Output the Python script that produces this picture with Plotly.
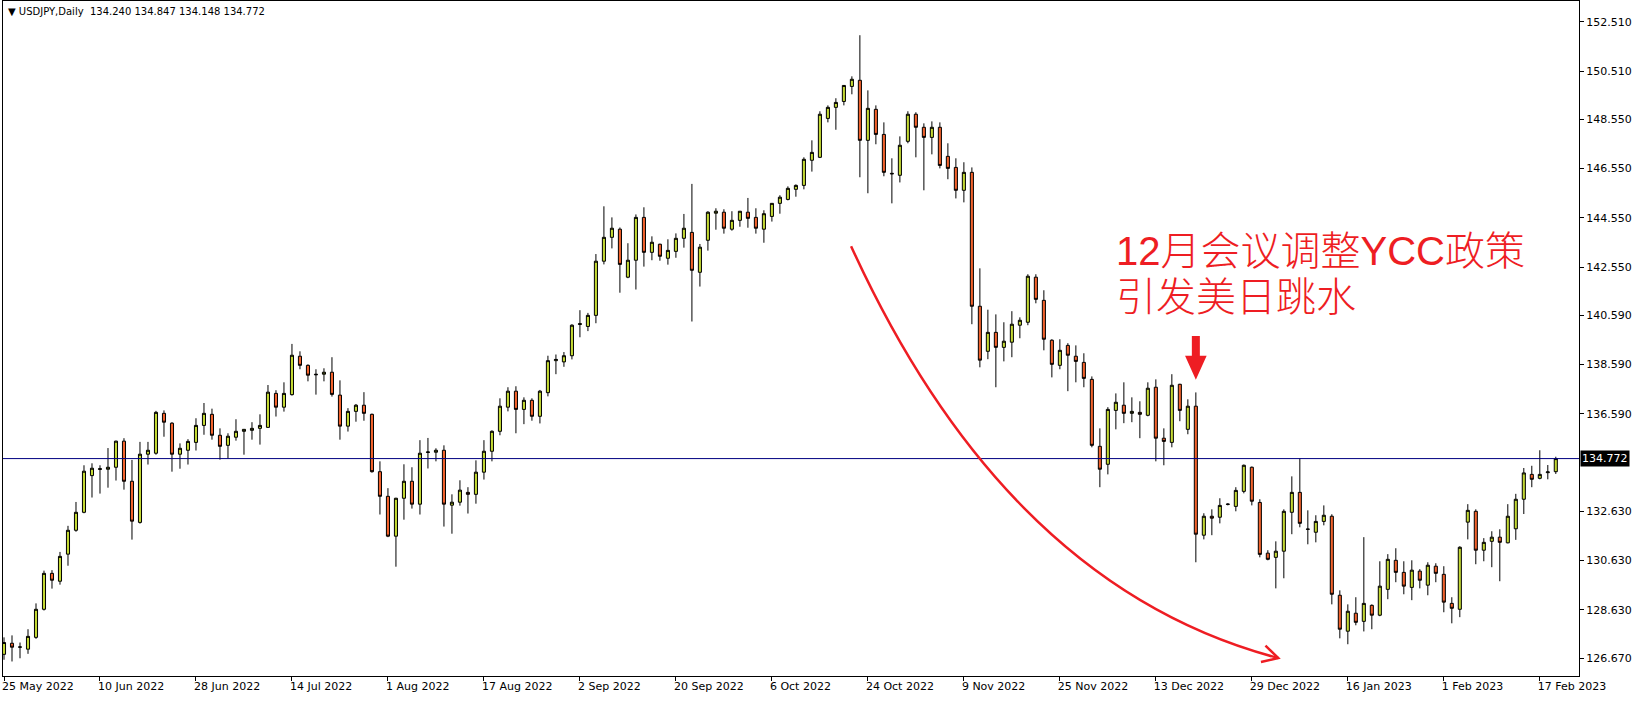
import plotly.graph_objects as go

# ---- data (USDJPY daily, 195 bars) ----
open_ = [
    126.82, 127.27, 127.11, 127.03, 127.51, 128.65, 130.11, 129.79, 130.89, 131.86,
    132.59, 134.08, 134.33, 134.34, 134.42, 135.48, 133.85, 132.18, 134.95, 134.99,
    136.61, 136.21, 134.95, 135.11, 135.43, 136.12, 136.57, 135.72, 135.31, 135.64,
    135.88, 135.92, 136.00, 136.04, 137.42, 136.86, 137.37, 138.93, 138.56, 138.20,
    138.20, 138.28, 137.35, 136.09, 136.69, 136.94, 136.57, 134.24, 133.24, 131.62,
    133.16, 133.85, 132.92, 135.02, 135.03, 135.11, 132.88, 133.00, 133.40, 133.32,
    134.22, 135.07, 135.88, 136.86, 137.51, 136.77, 137.14, 136.49, 137.45, 138.75,
    138.70, 138.95, 140.22, 140.14, 140.59, 142.79, 143.76, 144.09, 142.14, 142.83,
    144.57, 143.15, 143.48, 142.91, 143.19, 143.72, 143.96, 142.34, 143.64, 144.74,
    144.78, 144.09, 144.45, 144.78, 144.57, 144.09, 144.61, 145.14, 145.30, 145.71,
    145.87, 146.89, 147.01, 148.59, 149.04, 149.28, 149.89, 150.14, 147.70, 148.96,
    147.94, 146.36, 146.28, 147.66, 148.76, 148.23, 147.82, 148.23, 147.05, 146.60,
    145.67, 146.40, 140.96, 139.13, 139.90, 139.29, 139.50, 140.19, 140.31, 142.14,
    141.20, 139.58, 138.56, 139.37, 138.93, 138.68, 137.99, 135.27, 134.54, 136.73,
    136.94, 136.61, 136.65, 136.53, 137.67, 135.60, 135.43, 137.79, 135.96, 136.90,
    131.66, 132.43, 132.39, 132.91, 132.83, 133.44, 134.42, 132.99, 130.93, 130.76,
    131.01, 132.59, 133.40, 131.91, 131.78, 132.22, 132.43, 129.22, 127.76, 128.49,
    128.16, 128.81, 128.41, 129.46, 130.64, 130.15, 129.54, 130.20, 129.63, 130.40,
    130.07, 128.89, 128.65, 132.19, 132.63, 131.05, 131.41, 131.58, 131.35, 131.92,
    133.12, 134.13, 133.97, 134.20, 134.240,
]
high_ = [
    127.51, 127.59, 127.30, 127.84, 128.89, 130.22, 130.24, 130.98, 132.04, 133.01,
    134.50, 134.58, 134.50, 135.20, 135.50, 135.60, 134.72, 135.45, 135.45, 136.71,
    136.73, 136.25, 135.39, 135.56, 136.41, 137.03, 136.80, 136.00, 135.80, 136.37,
    135.97, 136.25, 136.57, 137.76, 137.55, 137.87, 139.43, 139.13, 138.60, 138.40,
    138.44, 138.89, 137.95, 136.82, 136.99, 137.47, 136.60, 134.66, 133.57, 133.18,
    134.54, 134.42, 135.52, 135.61, 135.19, 135.31, 133.32, 133.89, 133.61, 134.70,
    135.52, 135.92, 137.22, 137.67, 137.71, 137.26, 137.22, 137.56, 138.95, 139.00,
    139.10, 140.23, 140.80, 140.69, 143.08, 145.02, 144.57, 144.16, 143.52, 144.69,
    144.98, 143.80, 143.50, 143.68, 143.92, 144.71, 145.93, 143.49, 144.82, 144.94,
    144.90, 144.82, 144.83, 145.36, 144.94, 144.86, 145.15, 145.47, 145.83, 145.91,
    147.01, 147.70, 148.88, 149.12, 149.41, 149.94, 150.30, 151.97, 149.73, 149.12,
    148.43, 146.97, 147.86, 148.88, 148.84, 148.39, 148.47, 148.43, 147.58, 146.97,
    146.81, 146.60, 142.50, 140.82, 140.63, 140.31, 140.76, 140.51, 142.26, 142.26,
    141.61, 139.62, 139.62, 139.46, 139.37, 139.05, 138.11, 136.00, 136.86, 137.42,
    137.87, 137.26, 137.10, 137.87, 137.99, 136.00, 138.20, 137.81, 137.18, 137.46,
    132.55, 132.71, 133.16, 132.96, 133.61, 134.53, 134.45, 133.12, 131.05, 131.41,
    132.71, 134.05, 134.78, 132.67, 132.47, 132.87, 132.51, 129.42, 128.85, 129.14,
    131.58, 128.85, 130.60, 130.89, 131.13, 130.60, 130.64, 130.28, 130.56, 130.52,
    130.40, 129.14, 131.21, 132.92, 132.71, 131.54, 131.82, 131.90, 132.92, 133.34,
    134.39, 134.48, 135.11, 134.51, 134.847,
]
low_ = [
    126.60, 126.53, 126.66, 126.84, 127.45, 128.60, 129.49, 129.65, 130.42, 131.80,
    132.55, 133.19, 133.35, 133.59, 133.88, 133.51, 131.48, 132.13, 134.53, 134.93,
    135.66, 134.24, 134.36, 134.53, 135.10, 135.74, 135.54, 134.73, 134.77, 135.50,
    134.93, 135.54, 135.34, 136.02, 136.48, 136.68, 137.33, 138.40, 137.91, 137.37,
    137.91, 137.29, 135.54, 135.87, 136.27, 136.31, 134.20, 132.50, 131.58, 130.38,
    132.29, 132.74, 132.50, 134.37, 134.66, 132.01, 131.72, 132.86, 132.54, 132.94,
    133.92, 134.66, 135.72, 136.69, 135.80, 136.17, 136.31, 136.20, 137.30, 138.20,
    138.50, 138.80, 139.70, 139.95, 140.27, 142.66, 143.31, 141.51, 142.10, 141.64,
    142.57, 142.83, 142.81, 142.65, 142.93, 143.34, 140.34, 141.76, 143.22, 144.07,
    143.91, 144.03, 144.19, 144.15, 143.91, 143.54, 144.40, 144.72, 145.26, 145.41,
    145.71, 146.43, 146.98, 148.43, 148.13, 149.12, 149.57, 146.20, 145.55, 147.54,
    146.24, 145.14, 145.99, 147.58, 147.01, 145.67, 147.13, 146.56, 146.12, 145.34,
    145.18, 140.23, 138.48, 138.81, 137.67, 138.72, 138.89, 139.66, 140.19, 141.08,
    139.17, 138.07, 138.40, 137.51, 137.87, 137.67, 135.23, 133.61, 134.13, 135.96,
    136.21, 136.25, 135.60, 136.49, 134.66, 134.50, 135.23, 136.29, 135.76, 130.56,
    131.49, 131.66, 132.14, 132.87, 132.63, 133.36, 132.87, 130.76, 130.64, 129.50,
    129.91, 131.70, 131.98, 131.29, 131.37, 132.06, 128.85, 127.47, 127.23, 128.00,
    127.75, 127.84, 128.37, 129.06, 129.75, 129.26, 129.02, 129.50, 129.22, 129.75,
    128.53, 128.08, 128.33, 131.49, 130.48, 130.60, 130.36, 129.79, 131.33, 131.47,
    132.52, 133.61, 133.93, 133.93, 134.148,
]
close_ = [
    127.30, 127.11, 127.12, 127.55, 128.65, 130.11, 129.83, 130.80, 131.86, 132.59,
    134.26, 134.38, 134.36, 134.42, 135.48, 133.85, 132.23, 134.95, 135.11, 136.65,
    136.25, 134.95, 135.19, 135.47, 136.12, 136.61, 135.72, 135.27, 135.68, 135.88,
    135.96, 136.00, 136.12, 137.47, 136.86, 137.42, 138.97, 138.56, 138.16, 138.18,
    138.28, 137.38, 136.09, 136.69, 136.94, 136.61, 134.24, 133.24, 131.62, 133.16,
    133.85, 132.92, 134.99, 135.04, 135.11, 132.92, 133.00, 133.49, 133.32, 134.22,
    135.07, 135.88, 136.90, 137.51, 136.77, 137.14, 136.49, 137.51, 138.75, 138.80,
    138.95, 140.19, 140.25, 140.59, 142.79, 143.76, 144.13, 142.66, 142.83, 144.57,
    143.15, 143.56, 142.99, 143.23, 143.72, 144.13, 142.42, 143.36, 144.78, 144.82,
    144.13, 144.45, 144.82, 144.53, 144.13, 144.72, 145.14, 145.39, 145.75, 145.87,
    146.93, 147.21, 148.76, 149.04, 149.24, 149.93, 150.18, 147.70, 149.00, 147.94,
    146.40, 146.34, 147.50, 148.76, 148.23, 147.82, 148.23, 146.68, 146.56, 145.67,
    146.40, 140.96, 138.77, 139.90, 139.29, 139.54, 140.23, 140.39, 142.18, 141.24,
    139.62, 138.60, 139.17, 138.97, 138.72, 138.03, 135.31, 134.34, 136.77, 137.06,
    136.61, 136.69, 136.57, 137.63, 135.60, 135.47, 137.75, 136.73, 136.90, 131.70,
    132.43, 132.35, 132.87, 132.92, 133.48, 134.50, 133.04, 130.88, 130.68, 131.01,
    132.63, 133.40, 132.14, 131.90, 132.22, 132.47, 129.26, 127.84, 128.57, 128.12,
    128.89, 128.41, 129.59, 130.68, 130.15, 129.59, 130.24, 129.83, 130.44, 130.11,
    128.94, 128.69, 131.17, 132.67, 131.05, 131.37, 131.58, 131.37, 132.43, 133.12,
    134.19, 133.93, 134.13, 134.23, 134.772,
]

date_labels = [
    "25 May 2022", "10 Jun 2022", "28 Jun 2022", "14 Jul 2022", "1 Aug 2022",
    "17 Aug 2022", "2 Sep 2022", "20 Sep 2022", "6 Oct 2022", "24 Oct 2022",
    "9 Nov 2022", "25 Nov 2022", "13 Dec 2022", "29 Dec 2022", "16 Jan 2023",
    "1 Feb 2023", "17 Feb 2023",
]
label_step = 12  # bars between date labels
price_ticks = [126.670, 128.630, 130.630, 132.630, 136.590, 138.590,
               140.590, 142.550, 144.550, 146.550, 148.550, 150.510, 152.510]
last_price = 134.772
symbol = "USDJPY,Daily"
note_lines = ["12月会议调整YCC政策", "引发美日跳水"]
note_line_prices = [143.20, 141.33]
event_bar = 149  # bar marked with the thick arrow

# ---- figure ----
n = len(open_)
xs = list(range(n))
BULL = "#C3D834"
BEAR = "#F2622C"
RED = "#EE1D23"
FONT = "DejaVu Sans"

fig = go.Figure(go.Candlestick(
    x=xs, open=open_, high=high_, low=low_, close=close_,
    increasing=dict(fillcolor=BULL, line=dict(color="black", width=1)),
    decreasing=dict(fillcolor=BEAR, line=dict(color="black", width=1)),
    whiskerwidth=0, hoverinfo="skip",
))

fig.update_layout(
    width=1643, height=701,
    margin=dict(l=3, r=64, t=1, b=25),
    paper_bgcolor="white", plot_bgcolor="white",
    showlegend=False, boxgap=0.45,
    font=dict(family=FONT, size=11, color="black"),
)
fig.update_xaxes(
    range=[-0.125, 196.9], rangeslider_visible=False,
    showline=True, linecolor="black", linewidth=1, mirror=True,
    showgrid=False, zeroline=False,
    tickmode="array", tickvals=[i * label_step for i in range(len(date_labels))],
    ticktext=date_labels, ticks="outside", ticklen=4, tickcolor="black",
    ticklabelposition="outside right", ticklabelshift=-3,
    tickfont=dict(family=FONT, size=11, color="black"),
)
fig.update_yaxes(
    range=[125.94, 153.36], side="right",
    showline=True, linecolor="black", linewidth=1, mirror=True,
    showgrid=False, zeroline=False,
    tickmode="array", tickvals=price_ticks,
    ticktext=[f"{v:.3f}" for v in price_ticks],
    ticks="outside", ticklen=4, tickcolor="black",
    tickfont=dict(family=FONT, size=11, color="black"),
)

# current price line + label
fig.add_shape(type="line", xref="paper", x0=0, x1=1, yref="y",
              y0=last_price, y1=last_price, line=dict(color="#000080", width=1))
fig.add_annotation(xref="paper", x=1, xanchor="left", xshift=1, yref="y",
                   y=last_price, yanchor="middle", text=f"{last_price:.3f}",
                   showarrow=False, bgcolor="black", borderpad=1,
                   font=dict(family=FONT, size=11, color="white"))

# header
fig.add_annotation(xref="paper", yref="paper", x=0.002, y=1, yshift=-3,
                   xanchor="left", yanchor="top", showarrow=False,
                   text=f"▼ {symbol}  {open_[-1]:.3f} {high_[-1]:.3f} {low_[-1]:.3f} {close_[-1]:.3f}",
                   font=dict(family=FONT, size=10, color="black"))

# red note (two lines, each in its own fixed-height box)
for txt, yv in zip(note_lines, note_line_prices):
    fig.add_annotation(x=138.8, y=yv, xanchor="left", yanchor="middle",
                       text=txt, showarrow=False, height=44, valign="middle",
                       font=dict(family="Liberation Sans, Noto Sans CJK SC",
                                 size=40, color=RED, weight=300))

# thick down arrow over the event bar
hx, sx = 1.35, 0.5
fig.add_shape(type="path", xref="x", yref="y", fillcolor=RED,
              line=dict(color=RED, width=0),
              path=(f"M {event_bar - sx} 139.75 L {event_bar + sx} 139.75 "
                    f"L {event_bar + sx} 138.95 L {event_bar + hx} 138.95 "
                    f"L {event_bar} 137.97 L {event_bar - hx} 138.95 "
                    f"L {event_bar - sx} 138.95 Z"))

# curved arrow
fig.add_shape(type="path", xref="x", yref="y", line=dict(color=RED, width=2.5),
              path="M 105.9 143.40 Q 125.3 129.57 159.3 126.67")
fig.add_shape(type="path", xref="x", yref="y", line=dict(color=RED, width=2.5),
              path="M 157.7 127.17 L 159.3 126.67 L 157.14 126.51")

fig.write_html(
    "out.html",
    config={"displayModeBar": False},
    post_script="document.body.style.margin='0';document.body.style.overflow='hidden';",
)
